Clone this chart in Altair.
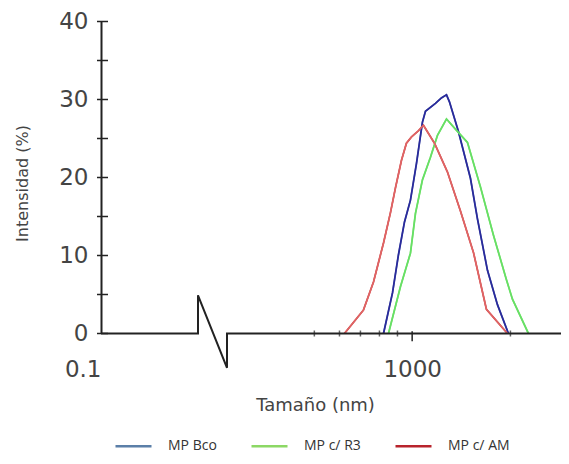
import altair as alt
import pandas as pd

series_names = ["MP Bco", "MP c/ R3", "MP c/ AM"]

bco_size = [655, 748, 817, 893, 975, 1066, 1164, 1217, 1410, 1540, 1660, 1734, 1980, 2364, 2622, 3040, 3522, 4142]
bco_int = [0, 5.2, 10.1, 14.3, 17.1, 21.8, 27.1, 28.5, 29.5, 30.2, 30.6, 29.7, 25.9, 19.9, 14.7, 8.1, 3.7, 0]
r3_size = [705, 841, 975, 1050, 1164, 1310, 1453, 1660, 1895, 2262, 2739, 3321, 4022, 4395, 5566]
r3_int = [0, 6.0, 10.3, 15.4, 19.7, 22.6, 25.4, 27.5, 26.2, 24.5, 18.8, 12.6, 6.9, 4.4, 0]
am_size = [368, 487, 565, 655, 726, 782, 854, 919, 990, 1098, 1181, 1390, 1684, 2040, 2471, 2994, 4083]
am_int = [0, 3.0, 6.6, 11.6, 15.5, 18.7, 22.2, 24.4, 25.2, 26.0, 26.7, 24.4, 20.7, 15.7, 10.4, 3.1, 0]

# axis line with break symbol (data space)
base_x = [0.1, 1, 1, 65, 65, 9000]
base_y = [0, 0, 4.9, -4.4, 0, 0]

x_minor = [236, 342, 466, 617, 805, 4266]
x_major = [1000]
x_labels = [0.1, 1000]
y_ticks = [0, 5, 10, 15, 20, 25, 30, 35, 40]
y_labels = [0, 10, 20, 30, 40]

plot_colors = ["#2a2a9c", "#66e066", "#e06464"]
legend_colors = ["#5b7fa8", "#8cd865", "#b8242c"]

rows = []
for name, xs, ys in [("MP Bco", bco_size, bco_int), ("MP c/ R3", r3_size, r3_int), ("MP c/ AM", am_size, am_int)]:
    for i, (a, b) in enumerate(zip(xs, ys)):
        rows.append({"size": a, "intensity": b, "series": name, "idx": i})
df = pd.DataFrame(rows)

base_df = pd.DataFrame({"size": base_x, "intensity": base_y, "idx": list(range(len(base_x)))})
minor_df = pd.DataFrame({"size": x_minor})
major_df = pd.DataFrame({"size": x_major})
ytick_df = pd.DataFrame({"intensity": y_ticks})

x_scale = alt.Scale(type="log", domain=[0.1, 1, 65, 9000], range=[0, 97, 126, 460], nice=False)
y_scale = alt.Scale(domain=[0, 40], nice=False, zero=False)

FONT = "DejaVu Sans"

x_axis = alt.Axis(
    values=x_labels,
    labelExpr="datum.value < 1 ? '0.1' : '1000'",
    ticks=False, domain=False, grid=False,
    labelFont=FONT, labelFontSize=23, labelColor="#444",
    labelPadding=25, labelBaseline="top",
    labelAlign={"condition": {"test": "datum.value < 1", "value": "right"}, "value": "center"},
    title="Tamaño (nm)", titleFont=FONT, titleFontSize=18, titleFontWeight="normal",
    titleColor="#444", titleX=214, titleY=72, titleAlign="center", titleBaseline="middle",
)
y_axis = alt.Axis(
    values=y_labels, ticks=False, domain=True, domainColor="#222", domainWidth=2, grid=False,
    labelFont=FONT, labelFontSize=23, labelColor="#444", labelPadding=13,
    title="Intensidad (%)", titleFont=FONT, titleFontSize=16, titleFontWeight="normal",
    titleColor="#444", titleX=-79, titleY=161.5, titleAngle=270, titleAlign="center",
    titleBaseline="middle",
)

X = alt.X("size:Q", scale=x_scale, axis=x_axis)
Y = alt.Y("intensity:Q", scale=y_scale, axis=y_axis)

legend_layer = alt.Chart(df).mark_line(strokeWidth=1.5).encode(
    x=X, y=Y,
    stroke=alt.Stroke("series:N", scale=alt.Scale(domain=series_names, range=legend_colors),
                      legend=alt.Legend(title=None, orient="none", direction="horizontal",
                                        legendX=13, legendY=405, symbolType="stroke",
                                        symbolSize=1296, symbolStrokeWidth=2.5,
                                        labelFont="Open Sans", labelFontSize=14, labelColor="#333",
                                        labelOffset=15, columnPadding=29)),
    order="idx:Q",
)

lines = alt.Chart(df).mark_line(strokeWidth=1.8).encode(
    x=X, y=Y,
    color=alt.Color("series:N", scale=alt.Scale(domain=series_names, range=plot_colors), legend=None),
    order="idx:Q",
)

baseline = alt.Chart(base_df).mark_line(color="#222", strokeWidth=2, clip=False).encode(
    x=X, y=Y, order="idx:Q",
)

minor = alt.Chart(minor_df).mark_tick(orient="vertical", size=6, thickness=1.5, color="#222").encode(
    x=X, y=alt.datum(0),
)

major = alt.Chart(major_df).mark_rule(color="#222", strokeWidth=1.5).encode(
    x=X, y=alt.datum(0.3), y2=alt.datum(-1.0),
)

yticks = alt.Chart(ytick_df).mark_rule(color="#222", strokeWidth=1.5).encode(
    x=alt.value(-4), x2=alt.value(7), y=Y,
)

chart = alt.layer(legend_layer, lines, baseline, minor, major, yticks).properties(
    width=460, height=312,
    autosize=alt.AutoSizeParams(type="none"),
    padding={"left": 93, "top": 13.5, "right": 0, "bottom": 122.5},
    background="white",
).configure_view(stroke=None)

chart.save("out.html", embed_options={"renderer": "svg", "actions": False})
